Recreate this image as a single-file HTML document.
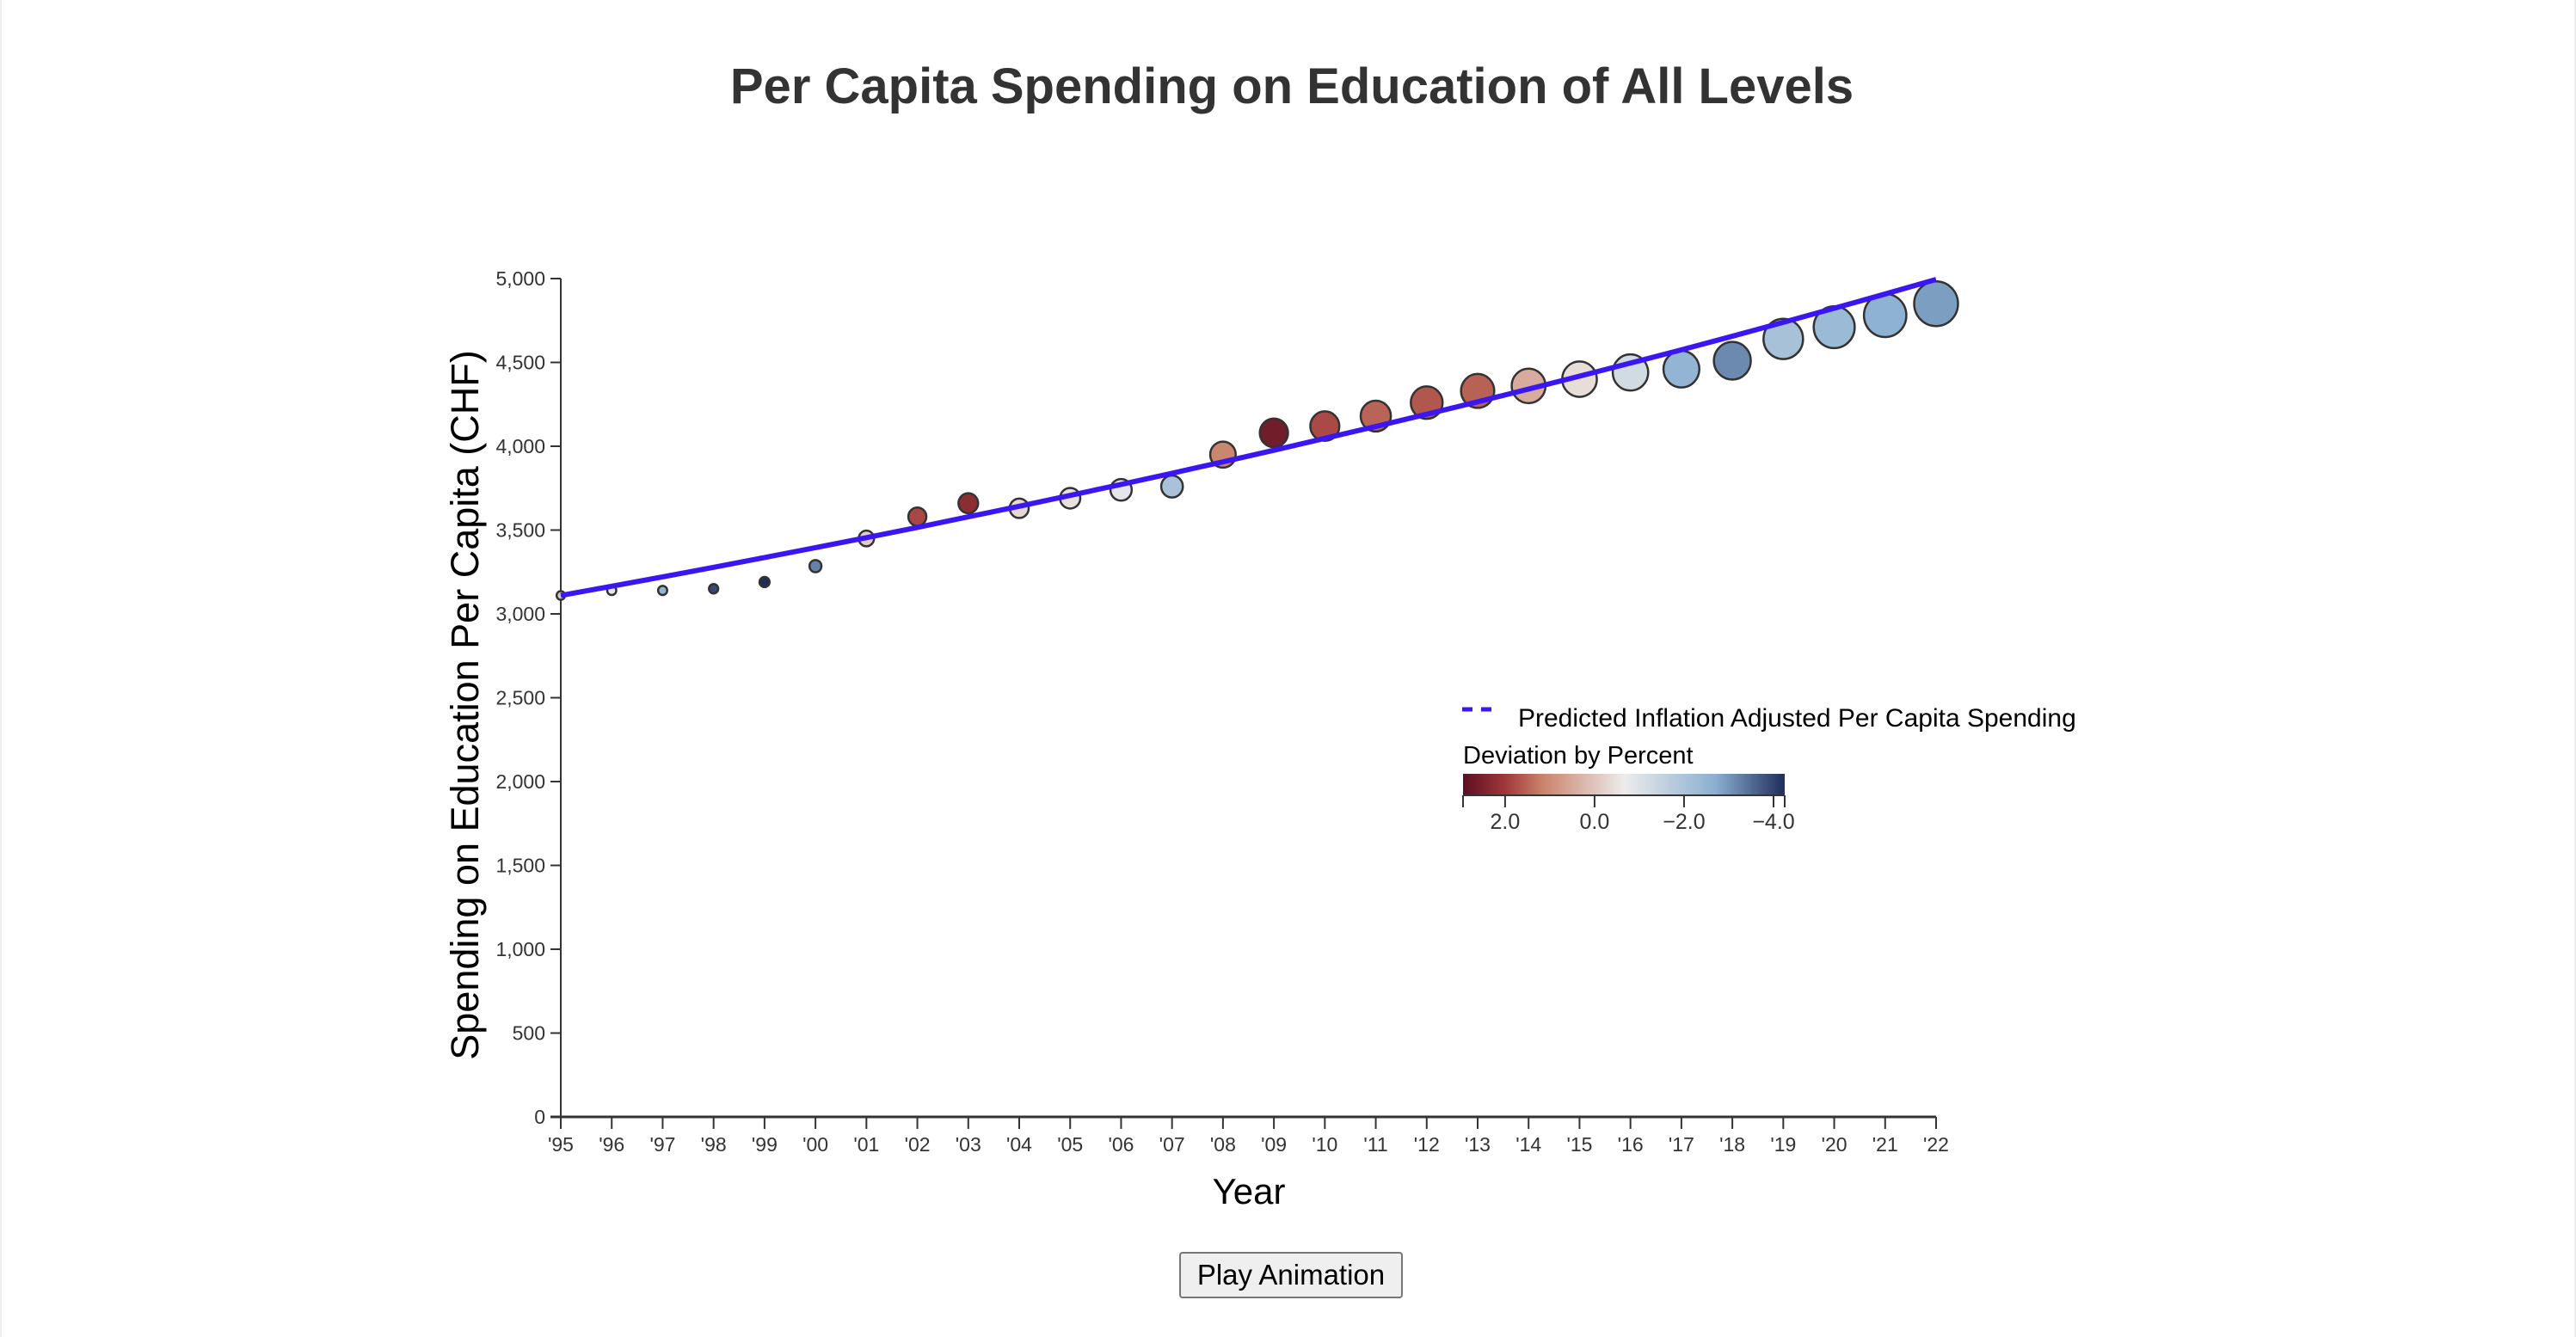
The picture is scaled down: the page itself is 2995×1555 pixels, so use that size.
<!DOCTYPE html>
<html><head><meta charset="utf-8"><style>
html,body{margin:0;padding:0;background:#fff;width:2995px;height:1555px;overflow:hidden;font-family:"Liberation Sans",sans-serif}
#frame{position:absolute;left:0;top:0;width:2991px;height:1555px;border-left:2px solid #eee;border-right:2px solid #eee}
#btn{position:absolute;left:1371px;top:1456px;width:260px;height:54px;font-family:"Liberation Sans",sans-serif;font-size:33px;background:#efefef;border:2px solid #767676;border-radius:4px;color:#000}
</style></head><body>
<div id="frame"></div>
<svg id="chart" width="2995" height="1555" style="position:absolute;left:0;top:0"></svg>
<button id="btn">Play Animation</button>
<script>
const years = ["'95","'96","'97","'98","'99","'00","'01","'02","'03","'04","'05","'06","'07","'08","'09","'10","'11","'12","'13","'14","'15","'16","'17","'18","'19","'20","'21","'22"];
const actual = [3110,3140,3140,3150,3190,3285,3450,3580,3660,3630,3690,3740,3760,3950,4080,4120,4180,4260,4330,4360,4400,4440,4460,4510,4640,4710,4780,4850];
const predicted = [3110,3165,3221,3278,3336,3395,3455,3516,3579,3642,3707,3772,3839,3907,3976,4047,4118,4191,4265,4341,4418,4496,4575,4656,4739,4823,4908,4995];
const yTicks = [0,500,1000,1500,2000,2500,3000,3500,4000,4500,5000];
const legendTicks = [2,0,-2,-4];

const NS="http://www.w3.org/2000/svg";
const svg=document.getElementById('chart');
function mk(tag,attrs,parent){const e=document.createElementNS(NS,tag);for(const k in attrs)e.setAttribute(k,attrs[k]);(parent||svg).appendChild(e);return e;}
const X0=652,X1=2251,Y0=1299,Y1=324;
const x=i=>X0+(X1-X0)*i/(years.length-1);
const y=v=>Y0+(Y1-Y0)*v/5000;
const vmin=Math.min(...actual),vmax=Math.max(...actual);
const r=v=>5+(v-vmin)/(vmax-vmin)*21;
const stops=[[2.94,[90,15,34]],[2.0,[160,55,58]],[1.2,[201,128,104]],[-0.67,[236,236,236]],[-2.7,[138,175,208]],[-4.25,[31,45,90]]];
function color(d){
  if(d>=stops[0][0])return 'rgb('+stops[0][1]+')';
  for(let k=0;k<stops.length-1;k++){const a=stops[k],b=stops[k+1];
    if(d<=a[0]&&d>=b[0]){const t=(a[0]-d)/(a[0]-b[0]);return 'rgb('+a[1].map((c,j)=>Math.round(c+(b[1][j]-c)*t)).join(',')+')';}}
  return 'rgb('+stops[stops.length-1][1]+')';
}
let t=mk('text',{x:1502,y:120,'text-anchor':'middle','font-size':58,'font-weight':'bold',fill:'#333'});
t.textContent='Per Capita Spending on Education of All Levels';


let ya=mk('g',{});


mk('line',{x1:X0,y1:Y0,x2:X0,y2:Y1,stroke:'#333','stroke-width':2},ya);
yTicks.forEach(v=>{
  mk('line',{x1:X0-12,x2:X0,y1:y(v),y2:y(v),stroke:'#333','stroke-width':2},ya);
  const l=mk('text',{x:X0-18,y:y(v)+8,'text-anchor':'end','font-size':23,fill:'#333'},ya);
  l.textContent=v.toLocaleString('en-US');
  
  
});
let yt=mk('text',{transform:'translate(556,820) rotate(-90)','text-anchor':'middle','font-size':45,fill:'#000'});
yt.textContent='Spending on Education Per Capita (CHF)';


let xa=mk('g',{});


mk('line',{x1:X0-12,x2:X1,y1:Y0,y2:Y0,stroke:'#333','stroke-width':3},xa);
years.forEach((yr,i)=>{
  mk('line',{x1:x(i),x2:x(i),y1:Y0,y2:Y0+14,stroke:'#333','stroke-width':2},xa);
  const l=mk('text',{x:x(i),y:Y0+40,'text-anchor':'middle','font-size':23,fill:'#333'},xa);
  l.textContent=yr;
  
  
});
let xt=mk('text',{x:1452,y:1400,'text-anchor':'middle','font-size':42,fill:'#000'});
xt.textContent='Year';


actual.forEach((v,i)=>{
  const dev=(v-predicted[i])/predicted[i]*100;
  const c=mk('ellipse',{cx:x(i),cy:y(v),rx:r(v)*0.98,ry:r(v),fill:color(dev),stroke:'#333','stroke-width':2.5});
  
  
});
const pl=mk('path',{d:predicted.map((v,i)=>(i?'L':'M')+x(i)+','+y(v)).join(''),fill:'none',stroke:'#3a17f2','stroke-width':6});


let lg=mk('g',{});


mk('line',{x1:1700,x2:1740,y1:825,y2:825,stroke:'#3a17f2','stroke-width':5,'stroke-dasharray':'12 10'},lg);
let lt=mk('text',{x:1765,y:845,'font-size':30,fill:'#000'},lg);
lt.textContent='Predicted Inflation Adjusted Per Capita Spending';


let lt2=mk('text',{x:1701,y:888,'font-size':29,fill:'#000'},lg);
lt2.textContent='Deviation by Percent';


const defs=mk('defs',{});
const grad=mk('linearGradient',{id:'g',x1:0,x2:1,y1:0,y2:0},defs);
const L0=1701,L1=2075,D0=2.94,D1=-4.25;
const lx=d=>L0+(L1-L0)*(D0-d)/(D0-D1);
stops.forEach(s=>mk('stop',{offset:(D0-s[0])/(D0-D1),'stop-color':'rgb('+s[1]+')'},grad));
mk('rect',{x:L0,y:900,width:L1-L0,height:24,fill:'url(#g)'},lg);
mk('line',{x1:L0,x2:L1,y1:925,y2:925,stroke:'#333','stroke-width':2},lg);
mk('line',{x1:L0,x2:L0,y1:925,y2:939,stroke:'#333','stroke-width':2},lg);
mk('line',{x1:L1,x2:L1,y1:925,y2:939,stroke:'#333','stroke-width':2},lg);
legendTicks.forEach(d=>{
  mk('line',{x1:lx(d),x2:lx(d),y1:925,y2:939,stroke:'#333','stroke-width':2},lg);
  const l=mk('text',{x:lx(d),y:964,'text-anchor':'middle','font-size':25,fill:'#333'},lg);
  l.textContent=(d===0?'0.0':(d<0?'\u2212'+Math.abs(d).toFixed(1):d.toFixed(1)));
  
  
});
</script>
</body></html>
